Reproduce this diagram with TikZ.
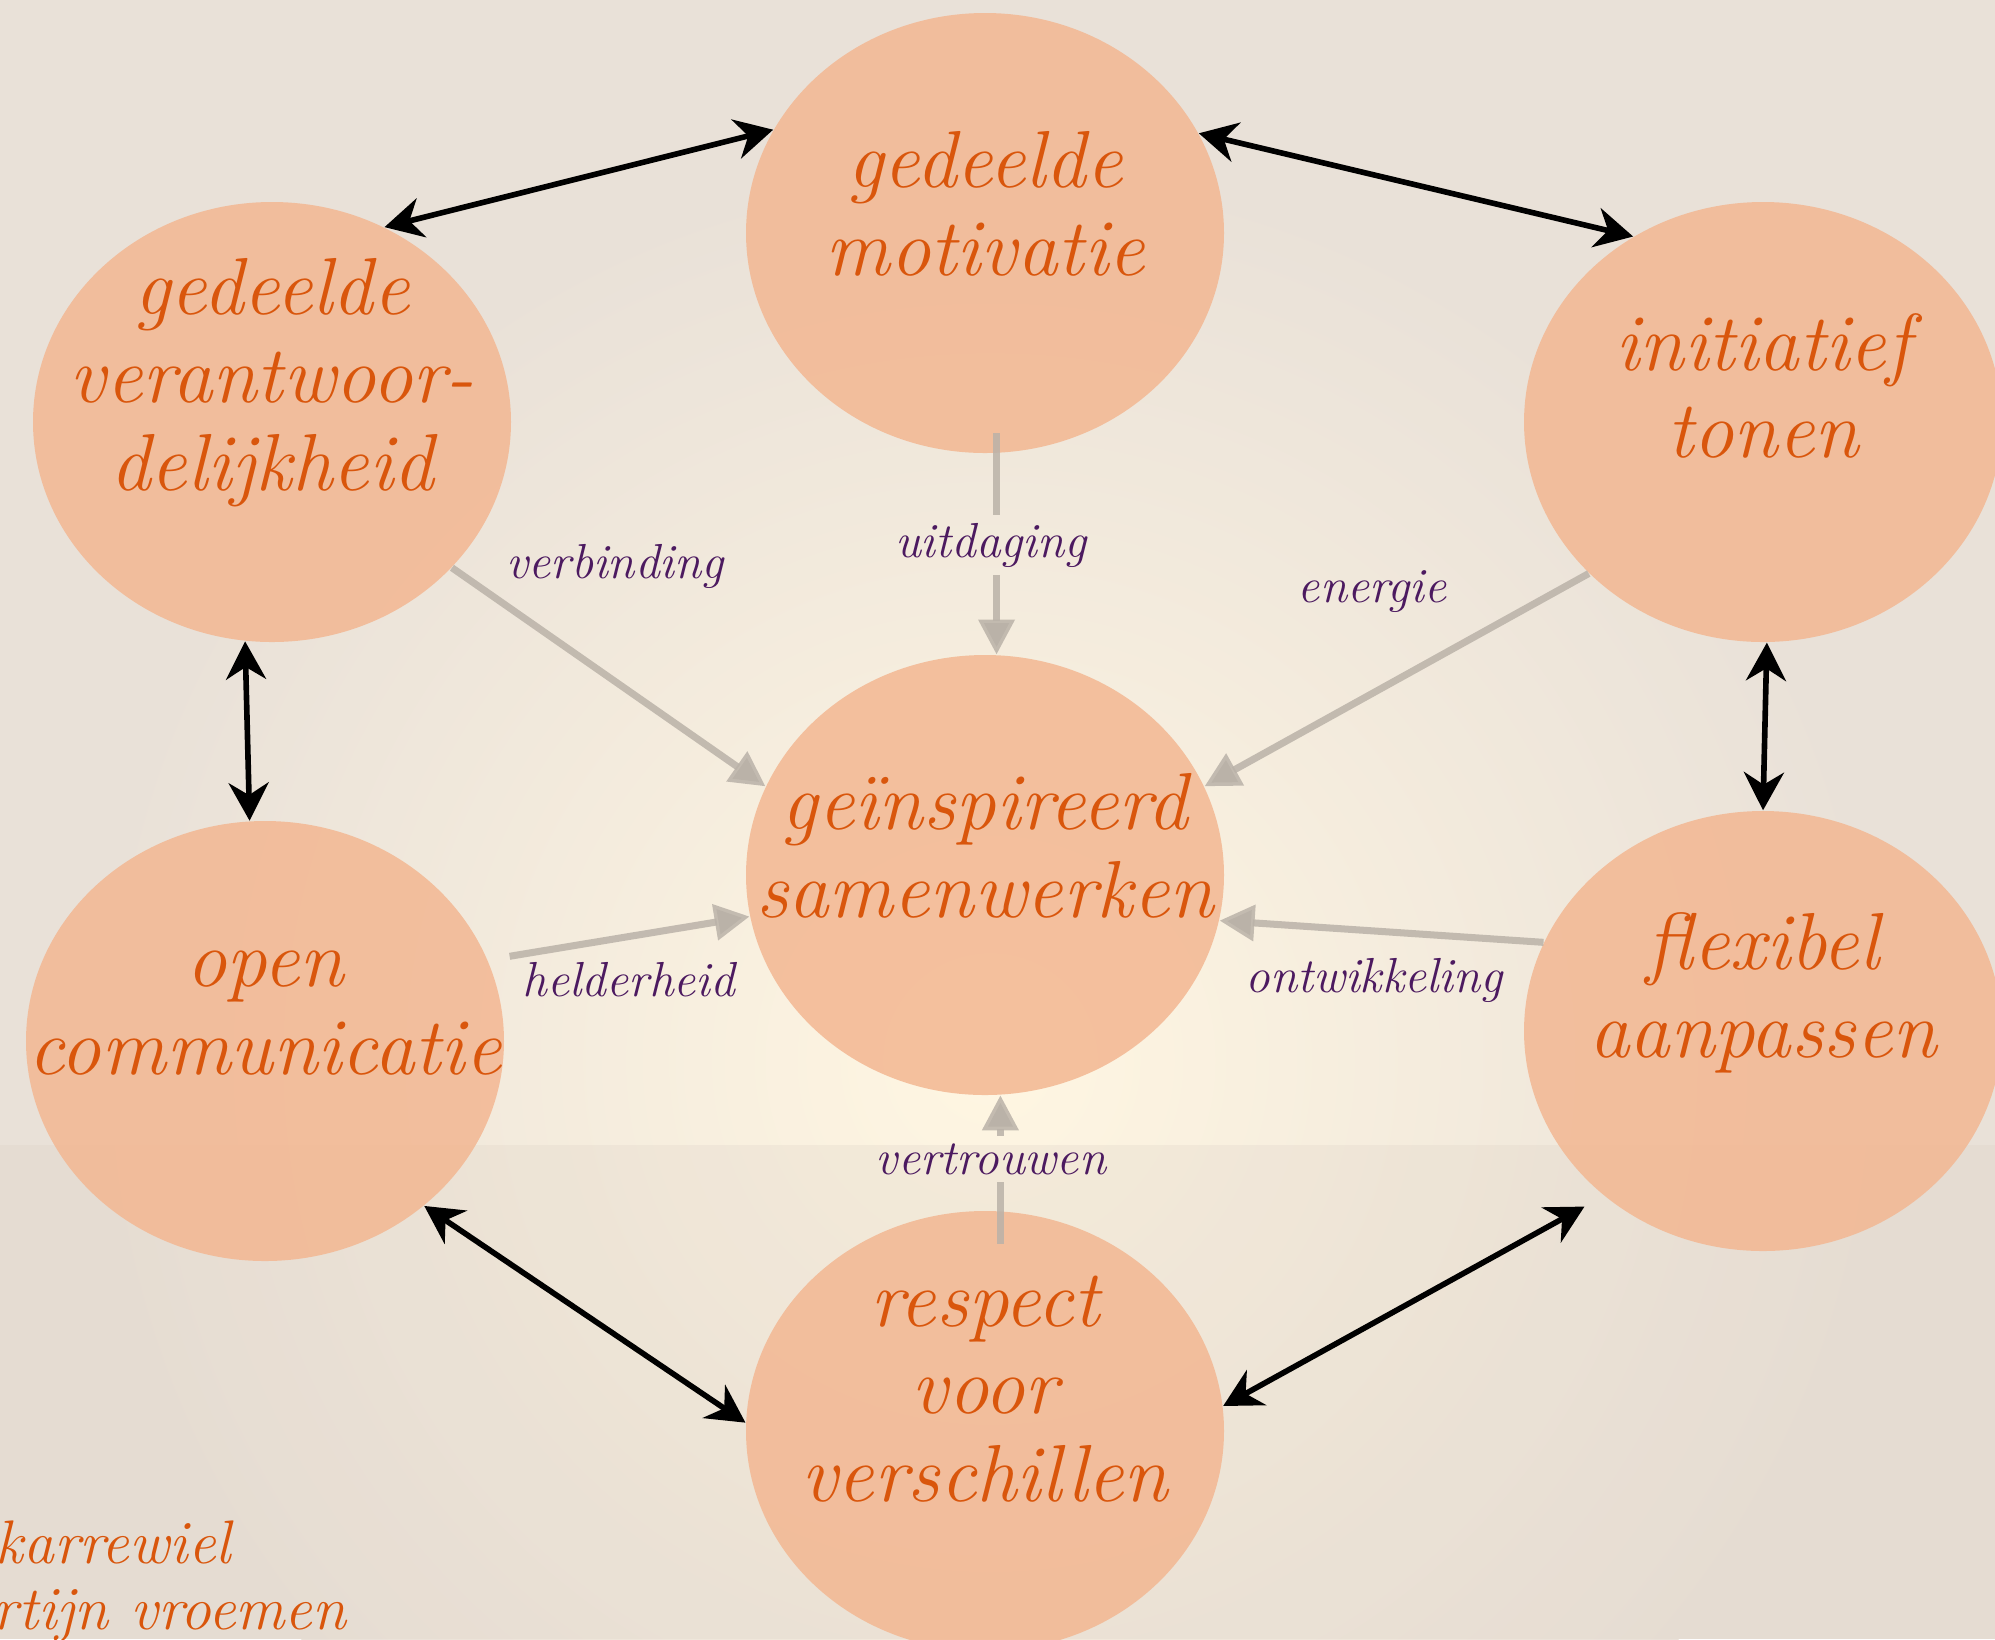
\documentclass[tikz,border=0pt]{standalone}
\usepackage{fontspec}
\usepackage{tikz}
\usetikzlibrary{arrows.meta,shapes.geometric}

\definecolor{bgbase}{RGB}{233,225,216}
\definecolor{bgglow}{RGB}{255,246,226}
\definecolor{bglow}{RGB}{222,210,198}
\definecolor{peach}{RGB}{243,183,146}
\definecolor{rust}{RGB}{217,86,12}
\definecolor{plum}{RGB}{76,26,96}
\definecolor{ash}{RGB}{186,178,168}

\tikzset{
	bubble/.style={ellipse, minimum width=4.78cm, minimum height=4.40cm, inner sep=0pt, fill=peach, fill opacity=0.85},
	bubtext/.style={align=center, text=rust, font=\fontsize{23}{25}\selectfont\itshape},
	lbl/.style={text=plum, font=\fontsize{14}{16}\selectfont\itshape, inner sep=2pt},
	link/.style={line width=1.6pt, draw=black, {Stealth[length=0.38cm,width=0.40cm]}-{Stealth[length=0.38cm,width=0.40cm]}},
	flow/.style={line width=2pt, draw=ash, draw opacity=0.85, -{Triangle[length=0.35cm,width=0.35cm]}},
	credit/.style={text=rust, font=\fontsize{17.5}{19}\selectfont\itshape, anchor=base west, inner sep=0pt}
}

\begin{document}
\begin{tikzpicture}
			%%%%% START %%%%%
			\useasboundingbox (0,0) rectangle (19.95,-16.39);
			\clip (0,0) rectangle (19.95,-16.39);
			
			\fill[bgbase] (0,0) rectangle (19.95,-16.39);
			\shade[inner color=bgglow, outer color=bgbase] (9.9,-10.6) circle (9);
			\fill[bglow, opacity=0.28] (0,-11.45) rectangle (19.95,-16.39);
			
			\node[bubble] (motiv) at (9.85,-2.33) {};
			\node[bubble] (verant) at (2.72,-4.22) {};
			\node[bubble] (init) at (17.63,-4.22) {};
			\node[bubble] (samen) at (9.85,-8.75) {};
			\node[bubble] (open) at (2.65,-10.41) {};
			\node[bubble] (flex) at (17.63,-10.31) {};
			\node[bubble] (respect) at (9.85,-14.31) {};
			
			\node[bubtext] (motivtxt) at ([yshift=0.29cm]motiv.center) {gedeelde\\motivatie};
			\node[bubtext] (veranttxt) at ([yshift=0.39cm]verant.center) {gedeelde\\verantwoor-\\delijkheid};
			\node[bubtext] (inittxt) at ([yshift=0.36cm]init.center) {initiatief\\tonen};
			\node[bubtext] (samentxt) at ([yshift=0.29cm]samen.center) {geïnspireerd\\samenwerken};
			\node[bubtext] (opentxt) at ([yshift=0.28cm]open.center) {open\\communicatie};
			\node[bubtext] (flextxt) at ([yshift=0.38cm]flex.center) {flexibel\\aanpassen};
			\node[bubtext] (respecttxt) at ([yshift=0.42cm]respect.center) {respect\\voor\\verschillen};
			
			\node[lbl] (verb) at (6.15,-5.66) {verbinding};
			\node[lbl] (uit) at (9.91,-5.45) {uitdaging};
			\node[lbl] (ener) at (13.72,-5.92) {energie};
			\node[lbl] (held) at (6.29,-9.80) {helderheid};
			\node[lbl] (ontw) at (13.74,-9.80) {ontwikkeling};
			\node[lbl] (vert) at (9.91,-11.59) {vertrouwen};
			
			% ring
			\draw[link] (verant.60) -- (motiv.154);
			\draw[link] (motiv.25) -- (init.125);
			\draw[link] (verant.-97) -- (open.94);
			\draw[link] (init.-89) -- (flex.90);
			\draw[link] (open.-46) -- (respect.178);
			\draw[link, shorten <=0.22cm] (flex.-134) -- (respect.6);
			
			% naar het midden
			\draw[flow] (verant.-39) -- (samen.158);
			\draw[flow, -, shorten <=-0.2cm] (motiv.-87) -- (motiv.-87 |- uit.north);
			\draw[flow] (motiv.-87 |- uit.south) -- (samen.87);
			\draw[flow] (init.-139) -- (samen.22);
			\draw[flow, shorten <=0.22cm] (open.20) -- (samen.190);
			\draw[flow] (flex.158) -- (samen.-11);
			\draw[flow, -, shorten <=-0.33cm] (respect.86) -- (respect.86 |- vert.south);
			\draw[flow] (respect.86 |- vert.north) -- (samen.-86);
			
			\node[credit] (kar) at (-0.05,-15.63) {karrewiel};
			\node[credit] (naam) at (-0.08,-16.29) {rtijn vroemen};
			
			%%%%% END %%%%%
\end{tikzpicture}
\end{document}
